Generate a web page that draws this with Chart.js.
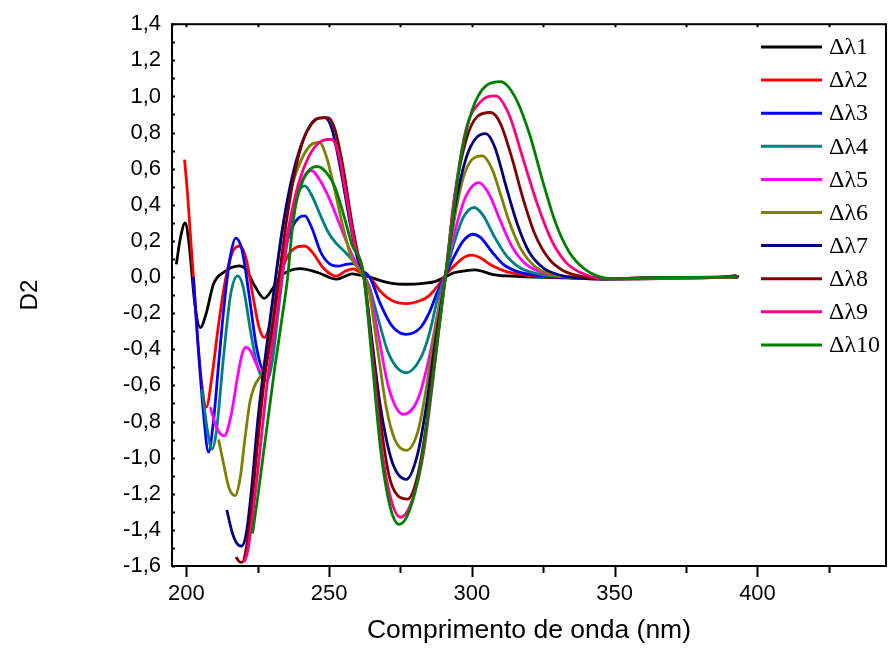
<!DOCTYPE html>
<html>
<head>
<meta charset="utf-8">
<title>D2</title>
<script src="https://cdn.jsdelivr.net/npm/chart.js@4/dist/chart.umd.min.js"></script>
<style>
    html, body { margin: 0; padding: 0; background: #ffffff; }
    canvas { display: block; }
</style>
</head>
<body>
<canvas id="d2Chart" width="888" height="652"></canvas>
<script>
// --- 2ª derivada, Δλ1 .. Δλ10 (x em nm) ---
const nm1 = [196.5, 198, 199.6, 201, 203, 204.9, 207, 209.5, 213, 218.5, 221, 224, 227.3, 230, 232.8, 236, 240, 246, 252.6, 255, 258, 261, 264.2, 268, 272, 277, 283, 287, 290.5, 294, 298, 301, 304, 308, 314, 322, 335, 350, 370, 385, 390, 392, 393.5];
const d2_1 = [0.07, 0.22, 0.30, 0.18, -0.15, -0.28, -0.2, -0.04, 0.025, 0.062, 0.04, -0.05, -0.118, -0.07, 0.0, 0.035, 0.047, 0.025, -0.012, 0.0, 0.017, 0.01, 0.0, -0.02, -0.035, -0.04, -0.035, -0.025, 0.0, 0.025, 0.035, 0.04, 0.03, 0.012, 0.005, 0.0, -0.005, -0.01, -0.005, -0.003, 0.003, 0.008, 0.0];

const nm2 = [199.4, 200.5, 201.5, 202.5, 204, 205.5, 207, 209, 211, 213, 215, 217, 218.8, 221, 223.5, 225.5, 227.3, 229.5, 232, 235, 238, 241.5, 244.5, 248, 252.5, 256, 258.5, 261, 264.2, 268, 272, 277, 282, 285, 288, 291, 295, 298, 300.2, 303, 307.2, 312, 316.5, 322, 330, 345, 360, 380, 393];
const d2_2 = [0.65, 0.45, 0.22, 0.0, -0.35, -0.6, -0.72, -0.55, -0.3, -0.08, 0.08, 0.16, 0.172, 0.1, -0.12, -0.28, -0.335, -0.25, -0.04, 0.1, 0.16, 0.172, 0.13, 0.05, 0.005, 0.035, 0.045, 0.025, 0.0, -0.08, -0.13, -0.147, -0.13, -0.104, -0.05, 0.016, 0.08, 0.115, 0.121, 0.105, 0.062, 0.03, 0.016, 0.005, 0.0, -0.01, -0.005, -0.002, 0.0];

const nm3 = [202.5, 204, 206, 207.8, 209.5, 211.5, 213.5, 215.5, 217.3, 219.5, 222, 224.5, 227, 229.5, 232, 234.5, 237, 239.5, 241.5, 244, 247, 250, 253, 256, 258.4, 261, 264.2, 268, 272, 277, 282, 285, 288, 291, 294, 297, 300.2, 303, 307, 311, 316, 322, 330, 345, 360, 393];
const d2_3 = [0.0, -0.35, -0.75, -0.97, -0.8, -0.45, -0.12, 0.12, 0.215, 0.15, -0.1, -0.38, -0.51, -0.35, -0.05, 0.15, 0.27, 0.33, 0.339, 0.27, 0.14, 0.075, 0.06, 0.07, 0.074, 0.04, 0.0, -0.15, -0.27, -0.317, -0.28, -0.2, -0.08, 0.02, 0.12, 0.2, 0.237, 0.22, 0.14, 0.07, 0.03, 0.01, 0.0, -0.01, -0.005, 0.0];

const nm4 = [205.5, 207.5, 209, 210.5, 213, 215.5, 218, 220, 222.5, 225, 228.1, 230, 232, 234, 236.5, 239, 241.5, 244, 247, 250, 252.6, 255.5, 258.4, 261, 264, 267, 271, 277, 282, 285, 288, 291, 294, 297, 300.8, 304, 308, 312, 317, 324, 334, 348, 393];
const d2_4 = [-0.62, -0.86, -0.953, -0.86, -0.45, -0.1, 0.006, -0.06, -0.3, -0.5, -0.575, -0.48, -0.22, 0.05, 0.3, 0.46, 0.505, 0.45, 0.34, 0.24, 0.185, 0.14, 0.09, 0.04, -0.05, -0.22, -0.43, -0.53, -0.45, -0.32, -0.12, 0.03, 0.2, 0.33, 0.385, 0.34, 0.22, 0.12, 0.05, 0.015, 0.0, -0.01, 0.0];

const nm5 = [208.4, 210.5, 213.3, 215.5, 218, 219.5, 220.8, 222.5, 224.5, 226, 227.5, 229.5, 232, 235, 238, 241, 243.8, 247, 250.2, 253, 256, 258.4, 261, 264, 267, 271, 276, 281, 285, 288, 291, 294, 298, 302.5, 306, 310, 314, 319, 326, 336, 348, 393];
const d2_5 = [-0.72, -0.83, -0.88, -0.78, -0.55, -0.43, -0.39, -0.41, -0.48, -0.52, -0.49, -0.35, -0.08, 0.2, 0.42, 0.55, 0.59, 0.53, 0.43, 0.32, 0.2, 0.11, 0.04, -0.06, -0.3, -0.62, -0.76, -0.68, -0.45, -0.2, 0.04, 0.25, 0.45, 0.523, 0.46, 0.31, 0.17, 0.07, 0.02, 0.0, -0.01, 0.0];

const nm6 = [211.3, 213, 215, 217.1, 218.8, 220.5, 222.3, 224, 227, 229, 231, 233, 236, 239, 242, 244.5, 246.7, 249, 252, 255, 258, 261, 264, 267, 270, 273, 277, 281, 284, 287, 290.8, 294, 297, 300, 303.7, 307, 310, 313, 317, 322, 328, 337, 348, 393];
const d2_6 = [-0.9, -1.03, -1.17, -1.21, -1.12, -0.9, -0.69, -0.6, -0.51, -0.32, -0.05, 0.2, 0.45, 0.6, 0.7, 0.74, 0.745, 0.67, 0.48, 0.27, 0.1, 0.03, -0.08, -0.4, -0.72, -0.9, -0.96, -0.86, -0.62, -0.3, 0.01, 0.33, 0.55, 0.65, 0.671, 0.6, 0.46, 0.31, 0.16, 0.06, 0.015, -0.005, -0.01, 0.0];

const nm7 = [214.2, 216, 217.5, 219.3, 221, 223, 225, 227.2, 229.3, 231.3, 234, 237, 240, 243, 245.5, 248.5, 251, 254, 257, 260, 262, 265, 268, 272, 277, 281, 284, 287, 290.8, 294, 298, 301.5, 304.9, 308, 312, 316, 320, 325, 331, 340, 350, 365, 393];
const d2_7 = [-1.29, -1.41, -1.47, -1.49, -1.42, -1.15, -0.8, -0.5, -0.24, 0.0, 0.3, 0.55, 0.72, 0.83, 0.875, 0.883, 0.82, 0.6, 0.33, 0.1, 0.02, -0.35, -0.72, -1.02, -1.12, -0.98, -0.72, -0.38, 0.01, 0.38, 0.66, 0.77, 0.794, 0.72, 0.5, 0.29, 0.14, 0.05, 0.01, -0.008, -0.01, -0.005, 0.0];

const nm8 = [217.4, 218.5, 219.5, 221, 223, 225, 227.5, 230.5, 232.5, 235, 238, 241, 244, 246.5, 249.6, 252, 255, 258, 260.5, 262, 265, 268, 271, 274, 277.5, 281, 284, 287, 290.8, 294, 298, 302, 306.6, 310, 314, 318, 322, 327, 332, 338, 346, 360, 393];
const d2_8 = [-1.55, -1.575, -1.58, -1.5, -1.25, -0.92, -0.55, -0.24, 0.0, 0.3, 0.58, 0.76, 0.85, 0.88, 0.883, 0.82, 0.6, 0.3, 0.1, 0.02, -0.38, -0.8, -1.1, -1.21, -1.23, -1.1, -0.82, -0.42, 0.01, 0.45, 0.76, 0.89, 0.911, 0.85, 0.66, 0.43, 0.24, 0.1, 0.035, 0.005, -0.01, -0.005, 0.0];

const nm9 = [220.2, 221.5, 223, 225, 227, 229, 231.5, 233.5, 236, 239, 243, 247, 250.8, 253.5, 256, 259, 262, 265, 268, 271.5, 275, 279, 283, 286, 288.5, 290.8, 294, 298, 303, 308.3, 313, 318, 323, 328, 333, 338, 344, 352, 393];
const d2_9 = [-1.58, -1.52, -1.35, -1.08, -0.78, -0.5, -0.24, 0.0, 0.28, 0.5, 0.67, 0.75, 0.763, 0.67, 0.45, 0.18, 0.02, -0.42, -0.9, -1.22, -1.33, -1.24, -0.98, -0.62, -0.28, 0.01, 0.45, 0.82, 0.97, 1.003, 0.9, 0.65, 0.4, 0.2, 0.08, 0.025, -0.005, -0.01, 0.0];

const nm10 = [223.2, 225, 227, 229, 231, 233.4, 235.5, 237, 238.6, 241, 243.5, 245.8, 249, 252, 255, 258, 262, 265, 268, 271.5, 274.5, 278, 282, 286, 289, 291, 293, 296, 300, 305, 310.1, 315, 320, 325, 329.3, 334, 339, 344, 350, 360, 393];
const d2_10 = [-1.42, -1.22, -0.98, -0.74, -0.5, -0.24, 0.0, 0.25, 0.42, 0.54, 0.6, 0.612, 0.58, 0.5, 0.35, 0.18, 0.02, -0.45, -0.95, -1.28, -1.37, -1.3, -1.05, -0.6, -0.22, 0.03, 0.28, 0.65, 0.92, 1.06, 1.082, 1.0, 0.8, 0.52, 0.3, 0.14, 0.05, 0.005, -0.01, -0.005, 0.0];

const seriesLabels = ['Δλ1', 'Δλ2', 'Δλ3', 'Δλ4', 'Δλ5', 'Δλ6', 'Δλ7', 'Δλ8', 'Δλ9', 'Δλ10'];
const seriesColors = ['#000000', '#ff0000', '#0000ff', '#008080', '#ff00ff', '#808000', '#000080', '#800000', '#ff0080', '#008000'];
const seriesX = [nm1, nm2, nm3, nm4, nm5, nm6, nm7, nm8, nm9, nm10];
const seriesY = [d2_1, d2_2, d2_3, d2_4, d2_5, d2_6, d2_7, d2_8, d2_9, d2_10];

const xTickLabels = [200, 250, 300, 350, 400];

const SANS = '"Liberation Sans", Arial, sans-serif';
const SERIF = '"Liberation Serif", "Times New Roman", serif';

// moldura + marcas dos eixos (desenhadas à mão para ter marcas maiores/menores)
const frameTicks = {
    id: 'frameTicks',
    afterDatasetsDraw(chart) {
        const { ctx, chartArea: a, scales } = chart;
        const xs = scales.x, ys = scales.y;
        ctx.save();
        ctx.strokeStyle = '#000';
        ctx.lineWidth = 2;
        ctx.strokeRect(a.left, a.top, a.right - a.left, a.bottom - a.top);

        // eixo x: marcas para fora em baixo, para dentro em cima
        for (let v = 200; v <= 425; v += 25) {
            const px = Math.round(xs.getPixelForValue(v)) + 0.5;
            const len = v % 50 === 0 ? 11 : 7;
            ctx.beginPath();
            ctx.moveTo(px, a.bottom);
            ctx.lineTo(px, a.bottom + len);
            ctx.moveTo(px, a.top);
            ctx.lineTo(px, a.top + 3);
            ctx.stroke();
        }
        // eixo y: marcas curtas para dentro a cada 0,1
        for (let i = 0; i <= 30; i++) {
            const v = -1.6 + i * 0.1;
            const py = Math.round(ys.getPixelForValue(v)) + 0.5;
            ctx.beginPath();
            ctx.moveTo(a.left, py);
            ctx.lineTo(a.left + 3, py);
            ctx.stroke();
        }
        ctx.restore();
    }
};

// legenda no canto superior direito, dentro da área do gráfico
const insideLegend = {
    id: 'insideLegend',
    afterDraw(chart) {
        const { ctx } = chart;
        ctx.save();
        ctx.font = '24px ' + SERIF;
        ctx.textBaseline = 'middle';
        ctx.textAlign = 'left';
        chart.data.datasets.forEach((ds, i) => {
            const y = 47 + i * 33.1;
            ctx.strokeStyle = ds.borderColor;
            ctx.lineWidth = 3;
            ctx.beginPath();
            ctx.moveTo(761, y);
            ctx.lineTo(822, y);
            ctx.stroke();
            ctx.fillStyle = '#000';
            ctx.fillText(ds.label, 829, y + 1);
        });
        ctx.restore();
    }
};

const datasets = seriesLabels.map((label, i) => ({
    label,
    data: seriesX[i].map((x, k) => ({ x, y: seriesY[i][k] })),
    borderColor: seriesColors[i],
    backgroundColor: seriesColors[i],
    borderWidth: 2.8,
    fill: false,
    order: -i
}));

const ctx = document.getElementById('d2Chart').getContext('2d');
new Chart(ctx, {
    type: 'line',
    data: { datasets },
    options: {
        responsive: false,
        animation: false,
        devicePixelRatio: 1,
        layout: { padding: { top: 23, right: 2, left: 0, bottom: 0 } },
        elements: {
            point: { radius: 0 },
            line: { cubicInterpolationMode: 'monotone' }
        },
        plugins: {
            legend: { display: false },
            tooltip: { enabled: false }
        },
        scales: {
            x: {
                type: 'linear',
                min: 195,
                max: 445,
                afterBuildTicks: s => { s.ticks = xTickLabels.map(v => ({ value: v })); },
                afterFit: s => { s.height = 86; s.paddingLeft = 0; s.paddingRight = 0; },
                grid: { display: false, drawTicks: false },
                border: { display: false },
                ticks: {
                    padding: 15,
                    color: '#000',
                    font: { family: SANS, size: 22 },
                    maxRotation: 0,
                    autoSkip: false
                },
                title: {
                    display: true,
                    text: 'Comprimento de onda (nm)',
                    color: '#000',
                    font: { family: SANS, size: 26.5 },
                    padding: { top: 0, bottom: 5 }
                }
            },
            y: {
                min: -1.6,
                max: 1.4,
                afterFit: s => { s.width = 172; },
                grid: { display: false, drawTicks: false },
                border: { display: false },
                ticks: {
                    stepSize: 0.2,
                    padding: 11,
                    color: '#000',
                    font: { family: SANS, size: 22 },
                    callback: v => (Math.round(v * 10) / 10).toFixed(1).replace('.', ',')
                },
                title: {
                    display: true,
                    text: 'D2',
                    color: '#000',
                    font: { family: SANS, size: 24 },
                    padding: { top: 16, bottom: 0 }
                }
            }
        }
    },
    plugins: [frameTicks, insideLegend]
});
</script>
</body>
</html>
